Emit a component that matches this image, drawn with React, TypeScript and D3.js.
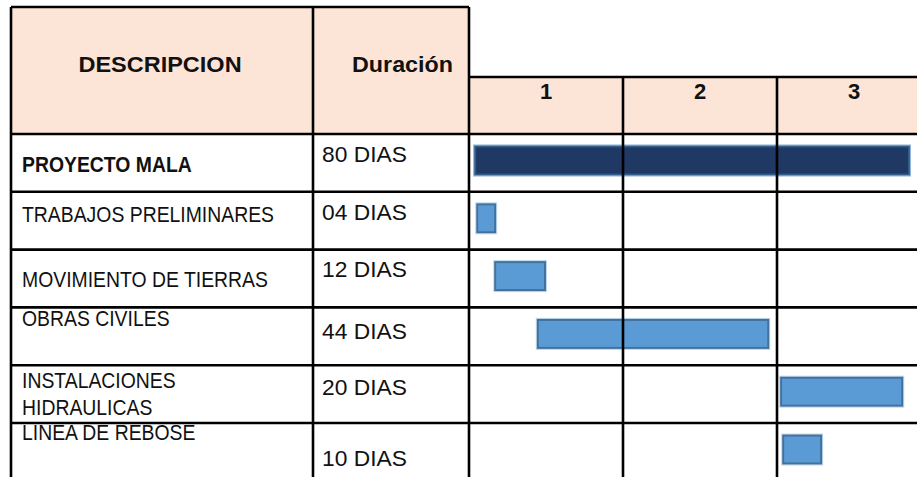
import React from "react";
import * as d3 from "d3";

// ---- data ----
const tasks = [
  "PROYECTO MALA",
  "TRABAJOS PRELIMINARES",
  "MOVIMIENTO DE TIERRAS",
  "OBRAS CIVILES",
  "INSTALACIONES|HIDRAULICAS",
  "LINEA DE REBOSE",
];
const durations = ["80 DIAS", "04 DIAS", "12 DIAS", "44 DIAS", "20 DIAS", "10 DIAS"];
const startDay = [1.2, 1.6, 5.1, 13.4, 60.8, 61.2];
const endDay = [85.7, 5.1, 14.8, 58.3, 84.4, 68.6];
const periods = ["1", "2", "3"];
const headerDesc = "DESCRIPCION";
const headerDur = "Duración";

// ---- layout (not data) ----
const W = 917;
const H = 477;
const X0 = 11; // left border
const XD = 313; // desc / duration divider
const XG = 469; // gantt start
const YTOP = 7;
const YGT = 77; // gantt header top
const YHB = 134; // header bottom
const ROW_H = 57.8;
const DESC_BASE = [[38], [30], [37], [19], [23, 50], [17]];
const DUR_BASE = [27.5, 28, 27, 32, 29.5, 43];
const PEACH = "#FCE4D6";
const FONT = "'Liberation Sans', Arial, sans-serif";

function SText(props: {
  x: number;
  y: number;
  sy: number;
  size: number;
  bold?: boolean;
  anchor?: string;
  children: React.ReactNode;
}) {
  const { x, y, sy, size, bold, anchor, children } = props;
  return (
    <text
      transform={`translate(${x},${y}) scale(1,${sy})`}
      fontSize={size}
      fontWeight={bold ? "bold" : "normal"}
      textAnchor={anchor || "start"}
      fill="#111"
    >
      {children}
    </text>
  );
}

export default function App() {
  const x = d3.scaleLinear().domain([0, 90]).range([XG, XG + 3 * 154]);
  const periodScale = d3
    .scaleBand<string>()
    .domain(periods)
    .range([x(0), x(90)]);
  const y = d3
    .scaleBand<number>()
    .domain(tasks.map((_, i) => i))
    .range([YHB, YHB + tasks.length * ROW_H]);

  const lw = 2.6;

  return (
    <svg
      width={W}
      height={H}
      style={{ position: "absolute", left: 0, top: 0, display: "block", background: "#fff" }}
      fontFamily={FONT}
    >
      {/* header fills */}
      <rect x={X0} y={YTOP} width={XG - X0} height={YHB - YTOP} fill={PEACH} />
      <rect x={XG} y={YGT} width={W - XG} height={YHB - YGT} fill={PEACH} />

      {/* header texts */}
      <SText x={160} y={72.3} sy={0.93} size={23.5} bold anchor="middle">
        {headerDesc}
      </SText>
      <SText x={402.5} y={72.3} sy={0.93} size={23.3} bold anchor="middle">
        {headerDur}
      </SText>
      {periods.map((p) => (
        <SText
          key={p}
          x={(periodScale(p) as number) + periodScale.bandwidth() / 2}
          y={98.7}
          sy={1}
          size={22}
          bold
          anchor="middle"
        >
          {p}
        </SText>
      ))}

      {/* bars */}
      {tasks.map((t, i) => {
        const top = y(i) as number;
        const main = i === 0;
        const bx = x(startDay[i]);
        const bw = x(endDay[i]) - x(startDay[i]);
        return (
          <g key={"b" + i}>
            <rect
              x={bx - 1.5}
              y={top + 11}
              width={bw + 3}
              height={31}
              fill="none"
              stroke={main ? "#8FAFD0" : "#BDD7EE"}
              strokeWidth={1}
            />
            <rect
              x={bx}
              y={top + 12.5}
              width={bw}
              height={28}
              fill={main ? "#1F3864" : "#5B9BD5"}
              stroke={main ? "#2E5C8A" : "#41719C"}
              strokeWidth={2}
            />
          </g>
        );
      })}

      {/* row texts */}
      {tasks.map((t, i) => {
        const top = y(i) as number;
        const lines = t.split("|");
        return (
          <g key={"t" + i}>
            {lines.map((ln, j) => (
              <SText key={j} x={22} y={top + DESC_BASE[i][j]} sy={1.12} size={19.4} bold={i === 0}>
                {ln}
              </SText>
            ))}
            <SText x={322} y={top + DUR_BASE[i]} sy={0.97} size={22.8}>
              {durations[i]}
            </SText>
          </g>
        );
      })}

      {/* grid lines */}
      <g stroke="#000" strokeWidth={lw}>
        <line x1={X0} x2={XG} y1={YTOP} y2={YTOP} />
        <line x1={XG} x2={W} y1={YGT} y2={YGT} />
        <line x1={X0} x2={X0} y1={YTOP} y2={H} />
        <line x1={XD} x2={XD} y1={YTOP} y2={H} />
        <line x1={XG} x2={XG} y1={YTOP} y2={H} />
        {periods.slice(1).map((p) => (
          <line key={p} x1={periodScale(p)} x2={periodScale(p)} y1={YGT} y2={H} />
        ))}
        {tasks.map((_, i) => (
          <line key={i} x1={X0} x2={W} y1={y(i)} y2={y(i)} />
        ))}
      </g>
    </svg>
  );
}
